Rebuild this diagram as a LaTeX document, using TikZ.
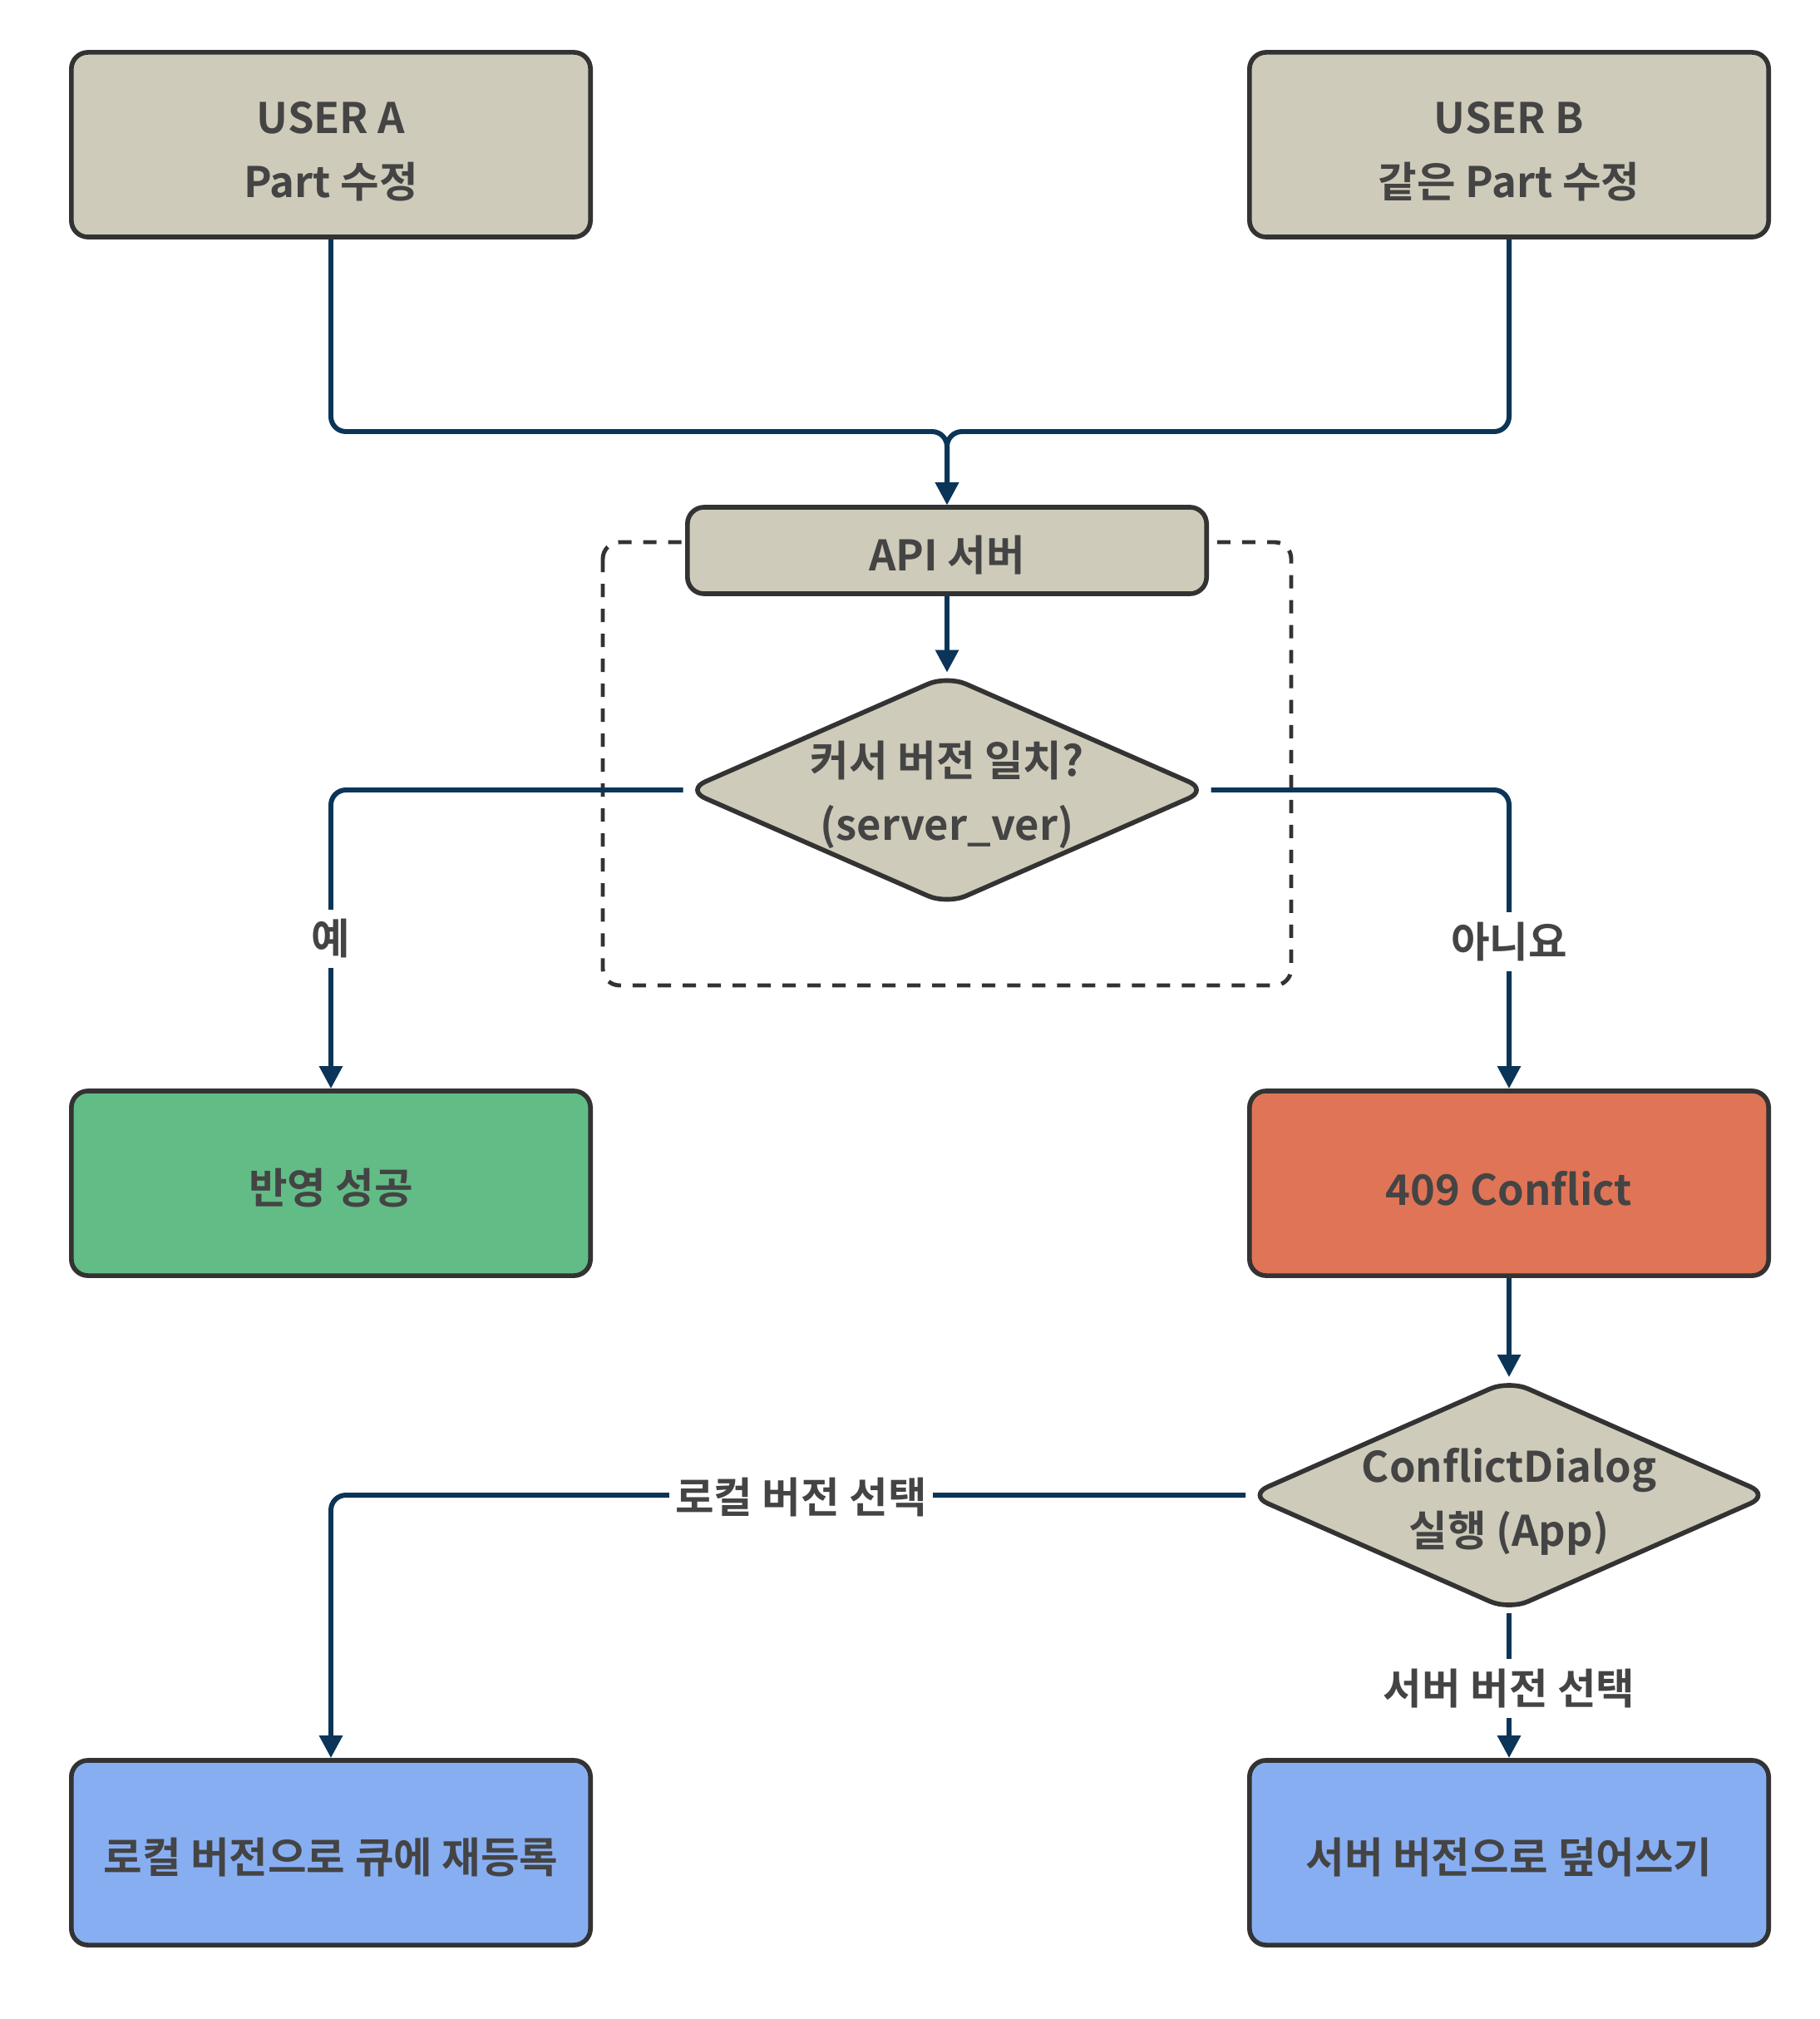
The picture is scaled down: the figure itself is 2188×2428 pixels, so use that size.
\documentclass[tikz,border=0pt]{standalone}
\usepackage{fontspec}
\setmainfont{Noto Sans CJK KR}[BoldFont={Noto Sans CJK KR Bold}]
\usetikzlibrary{shapes.geometric,arrows.meta}
\definecolor{grayc}{HTML}{CFCBBA}
\definecolor{greenc}{HTML}{62BC86}
\definecolor{redc}{HTML}{E07456}
\definecolor{bluec}{HTML}{88AEF2}
\definecolor{bordc}{HTML}{333333}
\definecolor{textc}{HTML}{444444}
\definecolor{connc}{HTML}{0B3558}
\newcommand{\fs}{\fontsize{14.4}{22}\selectfont\bfseries}
\tikzset{
  box/.style={draw=bordc, line width=1.6pt, rounded corners=0.2cm, minimum width=6.24cm,
    minimum height=2.22cm, inner sep=0pt},
  txt/.style={align=center, text=textc, font=\fs, inner sep=0pt, yshift=-0.06cm},
  dia/.style={diamond, draw=bordc, fill=grayc, line width=1.6pt, rounded corners=0.25cm,
    minimum width=6.29cm, minimum height=2.77cm, inner sep=0pt},
  conn/.style={draw=connc, line width=1.7pt, rounded corners=0.18cm,
    -{Triangle[length=0.27cm,width=0.27cm]}},
  lab/.style={fill=white, text=textc, inner xsep=2pt, inner ysep=0.12cm, font=\fs,
    rounded corners=0pt, yshift=-0.03cm},
}
\begin{document}
\begin{tikzpicture}[x=0.01cm, y=-0.01cm]
\useasboundingbox[fill=white] (0,0) rectangle (2188,2428);
% dashed container
\draw[bordc, line width=1.4pt, dash pattern=on 0.16cm off 0.14cm, rounded corners=0.2cm]
  (725,652) rectangle (1553,1185);
% nodes
\node[box, fill=grayc] (ua) at (398,174) {};
\node[txt, yshift=-0.02cm] (uat) at (ua.center) {USER A\\Part 수정};
\node[box, fill=grayc] (ub) at (1815,174) {};
\node[txt, yshift=-0.02cm] (ubt) at (ub.center) {USER B\\같은 Part 수정};
\node[box, fill=grayc, minimum height=1.04cm] (api) at (1139,662) {};
\node[txt] (apit) at (api.center) {API 서버};
\node[dia] (d1) at (1139,950) {};
\node[txt, yshift=0.0cm] (t1) at (d1.center) {커서 버전 일치?\\(server\_ver)};
\node[box, fill=greenc] (ok) at (398,1423) {};
\node[txt] (okt) at (ok.center) {반영 성공};
\node[box, fill=redc] (cf) at (1815,1423) {};
\node[txt] (cft) at (cf.center) {409 Conflict};
\node[dia, minimum width=6.28cm, minimum height=2.78cm] (d2) at (1815,1798) {};
\node[txt, yshift=-0.02cm] (t2) at (d2.center) {ConflictDialog\\실행 (App)};
\node[box, fill=bluec] (loc) at (398,2228) {};
\node[txt] (loct) at (loc.center) {로컬 버전으로 큐에 재등록};
\node[box, fill=bluec] (srv) at (1815,2228) {};
\node[txt] (srvt) at (srv.center) {서버 버전으로 덮어쓰기};
\coordinate (m) at (1139,519);
% connectors
\draw[conn] (ua.south) |- (m) -- (api.north);
\draw[conn] (ub.south) |- (m) -- (api.north);
\draw[conn] (api.south) -- (d1.north);
\draw[conn] (d1.west) -| node[lab, pos=0.745] (l1) {예} (ok.north);
\draw[conn] (d1.east) -| node[lab, pos=0.75] (l2) {아니요} (cf.north);
\draw[conn] (cf.south) -- (d2.north);
\draw[conn] (d2.west) -| node[lab, pos=0.243] (l3) {로컬 버전 선택} (loc.north);
\draw[conn] (d2.south) -- node[lab] (l4) {서버 버전 선택} (srv.north);
\end{tikzpicture}
\end{document}
